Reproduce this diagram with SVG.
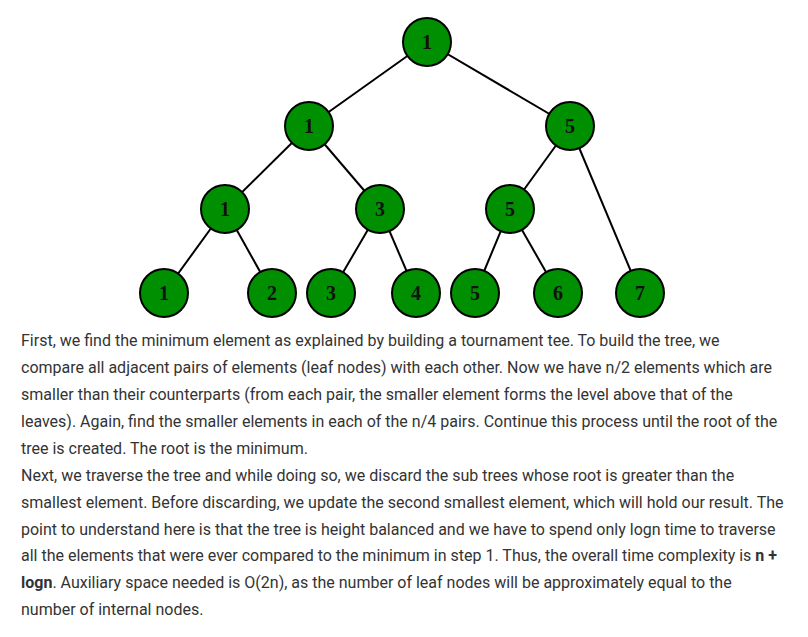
<svg xmlns="http://www.w3.org/2000/svg" width="808" height="637" viewBox="0 0 808 637">
<style>
.n circle{fill:#008f00;stroke:#000;stroke-width:2}
.n text{font-family:"Liberation Serif",serif;font-weight:bold;font-size:20px;fill:#111;text-anchor:middle}
#edges line{stroke:#000;stroke-width:2}
.p{font-family:Roboto,"Liberation Sans",sans-serif;font-size:16px;fill:#333}
.b{font-weight:bold}
</style>
<rect width="808" height="637" fill="#fff"/>
<g id="edges">
<line x1="427" y1="42" x2="309" y2="126"/>
<line x1="427" y1="42" x2="570" y2="126"/>
<line x1="309" y1="126" x2="225" y2="209"/>
<line x1="309" y1="126" x2="380" y2="209"/>
<line x1="570" y1="126" x2="510" y2="209"/>
<line x1="570" y1="126" x2="640" y2="293"/>
<line x1="225" y1="209" x2="164" y2="293"/>
<line x1="225" y1="209" x2="272" y2="293"/>
<line x1="380" y1="209" x2="331" y2="293"/>
<line x1="380" y1="209" x2="416" y2="293"/>
<line x1="510" y1="209" x2="475" y2="293"/>
<line x1="510" y1="209" x2="558" y2="293"/>
</g>
<g id="n1" class="n"><circle cx="427" cy="42" r="24"/><text x="427" y="49">1</text></g>
<g id="n2" class="n"><circle cx="309" cy="126" r="24"/><text x="309" y="133">1</text></g>
<g id="n3" class="n"><circle cx="570" cy="126" r="24"/><text x="570" y="133">5</text></g>
<g id="n4" class="n"><circle cx="225" cy="209" r="24"/><text x="225" y="216">1</text></g>
<g id="n5" class="n"><circle cx="380" cy="209" r="24"/><text x="380" y="216">3</text></g>
<g id="n6" class="n"><circle cx="510" cy="209" r="24"/><text x="510" y="216">5</text></g>
<g id="l1" class="n"><circle cx="164" cy="293" r="24"/><text x="164" y="300">1</text></g>
<g id="l2" class="n"><circle cx="272" cy="293" r="24"/><text x="272" y="300">2</text></g>
<g id="l3" class="n"><circle cx="331" cy="293" r="24"/><text x="331" y="300">3</text></g>
<g id="l4" class="n"><circle cx="416" cy="293" r="24"/><text x="416" y="300">4</text></g>
<g id="l5" class="n"><circle cx="475" cy="293" r="24"/><text x="475" y="300">5</text></g>
<g id="l6" class="n"><circle cx="558" cy="293" r="24"/><text x="558" y="300">6</text></g>
<g id="l7" class="n"><circle cx="640" cy="293" r="24"/><text x="640" y="300">7</text></g>
<g id="text">
<text class="p" x="21" y="346">First, we find the minimum element as explained by building a tournament tee. To build the tree, we</text>
<text class="p" x="21" y="373">compare all adjacent pairs of elements (leaf nodes) with each other. Now we have n/2 elements which are</text>
<text class="p" x="21" y="400">smaller than their counterparts (from each pair, the smaller element forms the level above that of the</text>
<text class="p" x="21" y="427">leaves). Again, find the smaller elements in each of the n/4 pairs. Continue this process until the root of the</text>
<text class="p" x="21" y="454">tree is created. The root is the minimum.</text>
<text class="p" x="21" y="481">Next, we traverse the tree and while doing so, we discard the sub trees whose root is greater than the</text>
<text class="p" x="21" y="508">smallest element. Before discarding, we update the second smallest element, which will hold our result. The</text>
<text class="p" x="21" y="535">point to understand here is that the tree is height balanced and we have to spend only logn time to traverse</text>
<text class="p" x="21" y="561">all the elements that were ever compared to the minimum in step 1. Thus, the overall time complexity is <tspan class="b">n +</tspan></text>
<text class="p" x="21" y="588"><tspan class="b">logn</tspan>. Auxiliary space needed is O(2n), as the number of leaf nodes will be approximately equal to the</text>
<text class="p" x="21" y="615">number of internal nodes.</text>
</g>
</svg>
